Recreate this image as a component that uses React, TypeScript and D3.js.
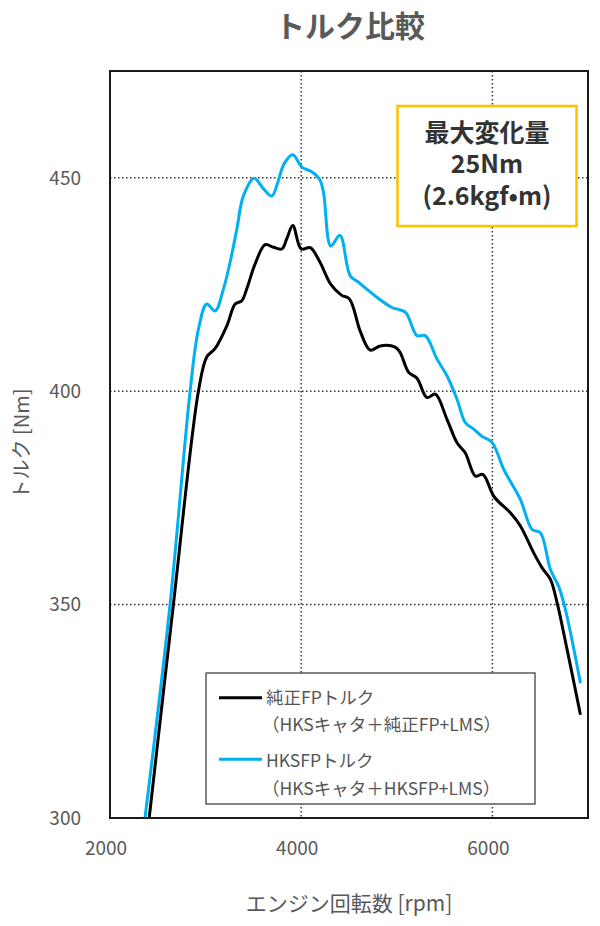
import React from "react";
import * as d3 from "d3";

const rpmBlack = [2410, 2663, 2925, 3012, 3100, 3222, 3309, 3379, 3431, 3518, 3623, 3710, 3797, 3849, 3912, 4000, 4094, 4190, 4310, 4420, 4505, 4618, 4722, 4827, 4984, 5036, 5124, 5211, 5316, 5403, 5525, 5630, 5717, 5822, 5900, 6020, 6188, 6293, 6432, 6520, 6607, 6677, 6782, 6921];
const torqueBlack = [300, 350, 400, 408, 410, 415.3, 420.4, 421.2, 424, 429.8, 434.3, 433.7, 433.3, 435.7, 438.8, 433.3, 433.6, 430.5, 425, 422.5, 421.6, 414, 409.6, 410.6, 410.3, 409, 404.4, 403, 398.5, 399.3, 393.4, 387.9, 385.5, 380.1, 380.5, 375.2, 371.5, 368.4, 362.1, 358.6, 355.9, 350.4, 339.4, 324.2];

const rpmBlue = [2366, 2628, 2838, 2925, 3012, 3099, 3186, 3256, 3327, 3396, 3508, 3606, 3693, 3745, 3822, 3912, 4007, 4111, 4191, 4233, 4310, 4405, 4513, 4600, 4792, 4949, 5089, 5211, 5298, 5421, 5525, 5630, 5717, 5804, 5892, 5996, 6118, 6293, 6415, 6502, 6607, 6694, 6764, 6921];
const torqueBlue = [300, 350, 400, 414.5, 420.4, 418.8, 423.9, 430.2, 438, 445.8, 449.9, 447.4, 445.7, 448.2, 453.3, 455.4, 452.5, 451.4, 449.7, 446.6, 434, 436.5, 427, 425.5, 422, 419.6, 418.5, 413, 413, 407.5, 403.6, 398.1, 392.6, 391.1, 389.4, 388, 381.7, 374.6, 367.6, 366.8, 358.2, 354.2, 348.8, 331.6];

const xTicks = [2000, 4000, 6000];
const yTicks = [300, 350, 400, 450];
const xGrid = [4000, 6000];
const yGrid = [350, 400, 450];

const titleText = "トルク比較";
const xTitle = "エンジン回転数 [rpm]";
const yTitle = "トルク [Nm]";
const noteLines = ["最大変化量", "25Nm", "(2.6kgf•m)"];
const legendMain = ["純正FPトルク", "HKSFPトルク"];
const legendSub = ["（HKSキャタ＋純正FP+LMS）", "（HKSキャタ＋HKSFP+LMS）"];
const seriesColors = ["#000000", "#00B0F0"];

const FONT = "'Noto Sans CJK JP', 'Noto Sans', sans-serif";

export default function App() {
  const W = 600, H = 926;
  const left = 110, right = 588, top = 71, bottom = 818;
  const x = d3.scaleLinear().domain([2000, 7000]).range([left, right]);
  const y = d3.scaleLinear().domain([300, 475]).range([bottom, top]);
  const line = d3
    .line<[number, number]>()
    .x((d) => x(d[0]))
    .y((d) => y(d[1]))
    .curve(d3.curveCatmullRom.alpha(0.5));
  const black = line(rpmBlack.map((r, i) => [r, torqueBlack[i]] as [number, number])) || "";
  const blue = line(rpmBlue.map((r, i) => [r, torqueBlue[i]] as [number, number])) || "";

  return (
    <svg width={W} height={H} style={{ position: "absolute", left: 0, top: 0, background: "#fff" }} fontFamily={FONT}>
      <defs>
        <clipPath id="plotclip">
          <rect x={left} y={top} width={right - left} height={bottom - top} />
        </clipPath>
      </defs>
      <rect x={0} y={0} width={W} height={H} fill="#fff" />
      <text x={350} y={37} textAnchor="middle" fontSize={30} fontWeight="bold" fill="#595959">{titleText}</text>

      {xGrid.map((v) => (
        <line key={"xg" + v} x1={x(v)} x2={x(v)} y1={top} y2={bottom} stroke="#333" strokeWidth={1.5} strokeDasharray="1.5 2.5" />
      ))}
      {yGrid.map((v) => (
        <line key={"yg" + v} x1={left} x2={right} y1={y(v)} y2={y(v)} stroke="#333" strokeWidth={1.5} strokeDasharray="1.5 2.5" />
      ))}

      <g clipPath="url(#plotclip)">
        <path d={blue} fill="none" stroke={seriesColors[1]} strokeWidth={3} strokeLinejoin="round" />
        <path d={black} fill="none" stroke={seriesColors[0]} strokeWidth={3} strokeLinejoin="round" />
      </g>

      <rect x={left} y={top} width={right - left} height={bottom - top} fill="none" stroke="#1a1a1a" strokeWidth={2} />

      {yTicks.map((v) => (
        <text key={"yt" + v} x={81} y={y(v)} dy="0.36em" textAnchor="end" fontSize={19} fill="#595959">{v}</text>
      ))}
      {xTicks.map((v) => (
        <text key={"xt" + v} x={x(v) - 4} y={848} dy="0.36em" textAnchor="middle" fontSize={19} fill="#595959">{v}</text>
      ))}

      <text x={349} y={903} dy="0.36em" textAnchor="middle" fontSize={21} fill="#595959">{xTitle}</text>
      <text transform="translate(22,444) rotate(-90)" textAnchor="middle" dy="0.36em" fontSize={20} fill="#595959">{yTitle}</text>

      <rect x={397.5} y={106} width={179} height={120} fill="#fff" stroke="#FFC000" strokeWidth={2.5} />
      {noteLines.map((t, i) => (
        <text key={"n" + i} x={487} y={[142, 173, 205][i]} textAnchor="middle" fontSize={25} fontWeight="bold" fill="#333">{t}</text>
      ))}

      <rect x={206} y={673} width={329} height={131} fill="#fff" stroke="#333" strokeWidth={1.2} />
      {legendMain.map((t, i) => (
        <g key={"lg" + i}>
          <line x1={219} x2={262} y1={[697.7, 759.3][i]} y2={[697.7, 759.3][i]} stroke={seriesColors[i]} strokeWidth={3} />
          <text x={266} y={[704, 767][i]} fontSize={17.5} fill="#555">{t}</text>
          <text x={262} y={[731, 795][i]} fontSize={17.5} fill="#555">{legendSub[i]}</text>
        </g>
      ))}
    </svg>
  );
}
